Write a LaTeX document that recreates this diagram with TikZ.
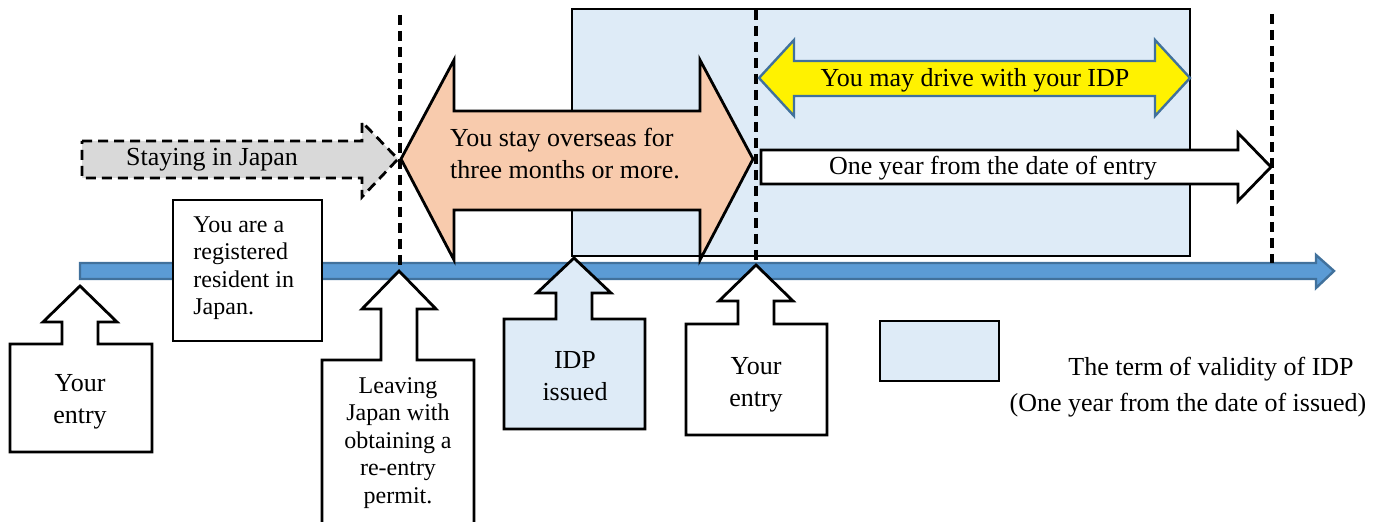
\documentclass[tikz,border=0pt]{standalone}
\usepackage{fontspec}
\setmainfont{Liberation Serif}
\usetikzlibrary{arrows}

\definecolor{idpblue}{HTML}{DEEBF7}
\definecolor{axisblue}{HTML}{5B9BD5}
\definecolor{lineblue}{HTML}{41719C}
\definecolor{stayorange}{HTML}{F8CBAD}
\definecolor{staygrey}{HTML}{D9D9D9}

% up arrow callout: style, tip x, tip y, head y, box top, box left, box right, box bottom
\newcommand{\upcallout}[8]{%
  \draw[#1] (#6,#8) -- (#6,#5) -- ({#2-18},#5) -- ({#2-18},#4) -- ({#2-37},#4)
    -- (#2,#3) -- ({#2+37},#4) -- ({#2+18},#4) -- ({#2+18},#5) -- (#7,#5)
    -- (#7,#8) -- cycle;}

\begin{document}
\begin{tikzpicture}[x=0.5pt, y=-0.5pt, >=stealth]
		\tikzstyle{outline} = [draw=black, line width=1.4pt, line join=miter]
		\tikzstyle{vdash} = [black, line width=1.6pt, dash pattern=on 5pt off 3pt]
		\tikzstyle{txt} = [font=\fontsize{13}{16}\selectfont, inner sep=0pt, align=center]
		\tikzstyle{boxtxt} = [font=\fontsize{12}{13.75}\selectfont, inner sep=0pt]

		\useasboundingbox (0,0) rectangle (1391,522);
		\clip (0,0) rectangle (1391,522);

		% term of validity of the IDP
		\draw[outline, fill=idpblue] (572,9) rectangle (1190,256);

		% time axis
		\draw[line width=1.2pt, draw=lineblue, fill=axisblue]
		(80,263) -- (1316,263) -- (1316,255) -- (1334,271) -- (1316,288)
		-- (1316,279) -- (80,279) -- cycle;

		% dashed marks
		\coordinate (leavetop) at (400,15);
		\coordinate (leavebot) at (400,265);
		\coordinate (entrytop) at (756,10);
		\coordinate (entrybot) at (756,265);
		\coordinate (endtop) at (1272,14);
		\coordinate (endbot) at (1272,263);
		\draw[vdash] (leavetop) -- (leavebot);
		\draw[vdash] (entrytop) -- (entrybot);
		\draw[vdash] (endtop) -- (endbot);

		% staying in japan
		\draw[outline, fill=staygrey, dash pattern=on 5pt off 3pt]
		(82,141) -- (362,141) -- (362,122) -- (398,159) -- (362,197)
		-- (362,178) -- (82,178) -- cycle;
		\node[txt] (stay) at (212,160) {Staying in Japan};

		% overseas
		\draw[outline, fill=stayorange]
		(401,159) -- (454,60) -- (454,111) -- (700,111) -- (700,60) -- (753,159)
		-- (700,260) -- (700,210) -- (454,210) -- (454,260) -- cycle;
		\node[txt, align=left] (overseas) at (565,154)
		{You stay overseas for\\three months or more.};

		% driving with the IDP
		\draw[line width=1.2pt, draw=lineblue, fill=yellow]
		(759,78) -- (794,40) -- (794,61) -- (1155,61) -- (1155,40) -- (1190,78)
		-- (1155,116) -- (1155,96) -- (794,96) -- (794,116) -- cycle;
		\node[txt] (drive) at (975,80) {You may drive with your IDP};

		% one year from entry
		\draw[outline, fill=white]
		(761,150) -- (1238,150) -- (1238,133) -- (1271,167) -- (1238,201)
		-- (1238,184) -- (761,184) -- cycle;
		\node[txt] (yearentry) at (993,168) {One year from the date of entry};

		% resident box
		\draw[outline, fill=white] (173,200) rectangle (322,341);
		\node[boxtxt, anchor=west, align=left] (resident) at (193,268)
		{You are a\\registered\\resident in\\Japan.};

		% callouts
		\upcallout{outline, fill=white}{80}{286}{322}{344}{10}{152}{452}
		\node[txt] (entrya) at (80,402) {Your\\entry};

		\upcallout{outline, fill=white}{399}{271}{309}{360}{322}{474}{535}
		\node[boxtxt, align=center] (leaving) at (398,443)
		{Leaving\\Japan with\\obtaining a\\re-entry\\permit.};

		\upcallout{outline, fill=idpblue}{574}{258}{293}{319}{504}{645}{429}
		\node[txt] (idp) at (575,376) {IDP\\issued};

		\upcallout{outline, fill=white}{756}{265}{301}{324}{686}{827}{435}
		\node[txt] (entryb) at (756,385) {Your\\entry};

		% legend
		\draw[outline, fill=idpblue] (880,321) rectangle (999,381);
		\node[txt] (legend) at (1211,369) {The term of validity of IDP};
		\node[txt] (legendb) at (1188,405) {(One year from the date of issued)};
\end{tikzpicture}
\end{document}
